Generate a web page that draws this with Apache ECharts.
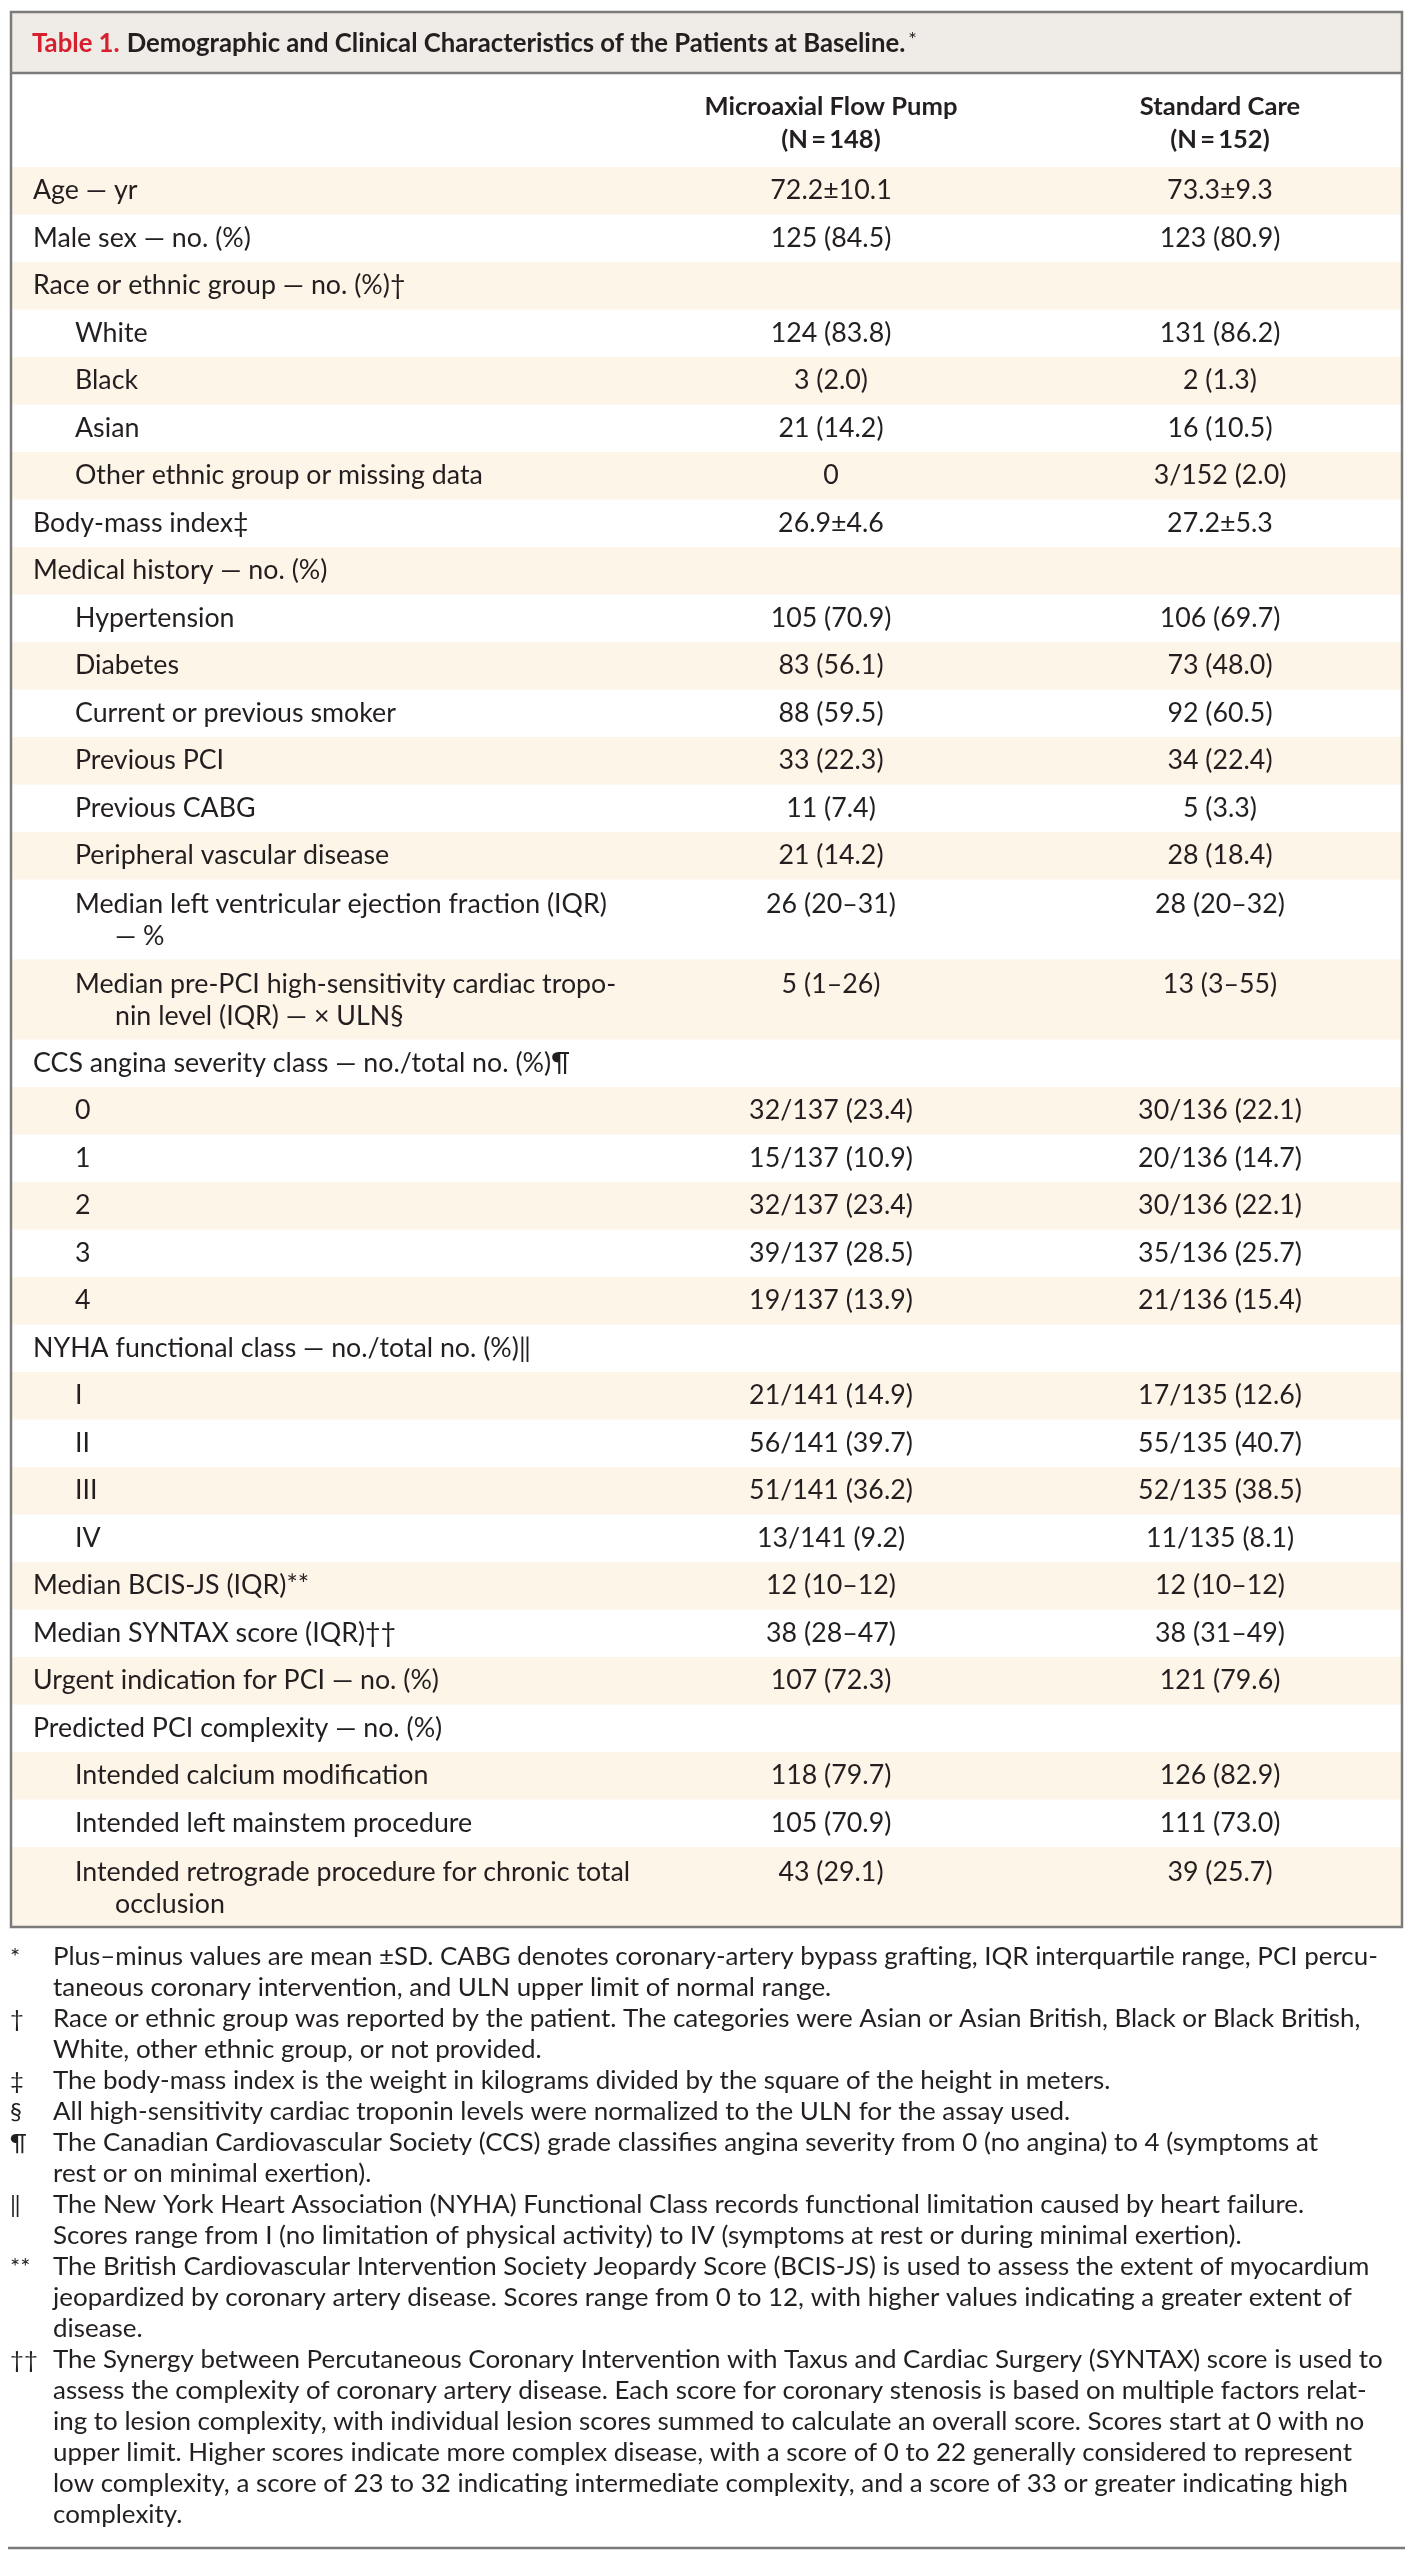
<!DOCTYPE html>
<html>
<head>
<meta charset="utf-8">
<script src="https://cdn.jsdelivr.net/npm/echarts@6/dist/echarts.min.js"></script>
<style>
html,body{margin:0;padding:0;background:#fff;}
#chart{width:1413px;height:2560px;}
</style>
</head>
<body>
<div id="chart"></div>
<script>
// ---------------- DATA ----------------
const titleLead = "Table 1.";
const titleText = "Demographic and Clinical Characteristics of the Patients at Baseline.";
const groupHeaders = [["Microaxial Flow Pump", "(N\u2009=\u2009148)"], ["Standard Care", "(N\u2009=\u2009152)"]];

const rowLabels = [
  ["Age \u2014 yr"],
  ["Male sex \u2014 no. (%)"],
  ["Race or ethnic group \u2014 no. (%)\u2020"],
  ["White"],
  ["Black"],
  ["Asian"],
  ["Other ethnic group or missing data"],
  ["Body-mass index\u2021"],
  ["Medical history \u2014 no. (%)"],
  ["Hypertension"],
  ["Diabetes"],
  ["Current or previous smoker"],
  ["Previous PCI"],
  ["Previous CABG"],
  ["Peripheral vascular disease"],
  ["Median left ventricular ejection fraction (IQR)", "\u2014 %"],
  ["Median pre-PCI high-sensitivity cardiac tropo-", "nin level (IQR) \u2014 \u00d7 ULN\u00a7"],
  ["CCS angina severity class \u2014 no./total no. (%)\u00b6"],
  ["0"], ["1"], ["2"], ["3"], ["4"],
  ["NYHA functional class \u2014 no./total no. (%)\u2016"],
  ["I"], ["II"], ["III"], ["IV"],
  ["Median BCIS-JS (IQR)**"],
  ["Median SYNTAX score (IQR)\u2020\u2020"],
  ["Urgent indication for PCI \u2014 no. (%)"],
  ["Predicted PCI complexity \u2014 no. (%)"],
  ["Intended calcium modification"],
  ["Intended left mainstem procedure"],
  ["Intended retrograde procedure for chronic total", "occlusion"]
];
const rowLevels = [0,0,0,1,1,1,1,0,0,1,1,1,1,1,1,1,1,0,1,1,1,1,1,0,1,1,1,1,0,0,0,0,1,1,1];

const pumpValues = [
  "72.2\u00b110.1","125 (84.5)","","124 (83.8)","3 (2.0)","21 (14.2)","0","26.9\u00b14.6","",
  "105 (70.9)","83 (56.1)","88 (59.5)","33 (22.3)","11 (7.4)","21 (14.2)",
  "26 (20\u201331)","5 (1\u201326)","",
  "32/137 (23.4)","15/137 (10.9)","32/137 (23.4)","39/137 (28.5)","19/137 (13.9)","",
  "21/141 (14.9)","56/141 (39.7)","51/141 (36.2)","13/141 (9.2)",
  "12 (10\u201312)","38 (28\u201347)","107 (72.3)","",
  "118 (79.7)","105 (70.9)","43 (29.1)"
];
const careValues = [
  "73.3\u00b19.3","123 (80.9)","","131 (86.2)","2 (1.3)","16 (10.5)","3/152 (2.0)","27.2\u00b15.3","",
  "106 (69.7)","73 (48.0)","92 (60.5)","34 (22.4)","5 (3.3)","28 (18.4)",
  "28 (20\u201332)","13 (3\u201355)","",
  "30/136 (22.1)","20/136 (14.7)","30/136 (22.1)","35/136 (25.7)","21/136 (15.4)","",
  "17/135 (12.6)","55/135 (40.7)","52/135 (38.5)","11/135 (8.1)",
  "12 (10\u201312)","38 (31\u201349)","121 (79.6)","",
  "126 (82.9)","111 (73.0)","39 (25.7)"
];

const footSymbols = ["*", "\u2020", "\u2021", "\u00a7", "\u00b6", "\u2016", "**", "\u2020\u2020"];
const footLines = [
  ["Plus\u2013minus values are mean \u00b1SD. CABG denotes coronary-artery bypass grafting, IQR interquartile range, PCI percu-",
   "taneous coronary intervention, and ULN upper limit of normal range."],
  ["Race or ethnic group was reported by the patient. The categories were Asian or Asian British, Black or Black British,",
   "White, other ethnic group, or not provided."],
  ["The body-mass index is the weight in kilograms divided by the square of the height in meters."],
  ["All high-sensitivity cardiac troponin levels were normalized to the ULN for the assay used."],
  ["The Canadian Cardiovascular Society (CCS) grade classifies angina severity from 0 (no angina) to 4 (symptoms at",
   "rest or on minimal exertion)."],
  ["The New York Heart Association (NYHA) Functional Class records functional limitation caused by heart failure.",
   "Scores range from I (no limitation of physical activity) to IV (symptoms at rest or during minimal exertion)."],
  ["The British Cardiovascular Intervention Society Jeopardy Score (BCIS-JS) is used to assess the extent of myocardium",
   "jeopardized by coronary artery disease. Scores range from 0 to 12, with higher values indicating a greater extent of",
   "disease."],
  ["The Synergy between Percutaneous Coronary Intervention with Taxus and Cardiac Surgery (SYNTAX) score is used to",
   "assess the complexity of coronary artery disease. Each score for coronary stenosis is based on multiple factors relat-",
   "ing to lesion complexity, with individual lesion scores summed to calculate an overall score. Scores start at 0 with no",
   "upper limit. Higher scores indicate more complex disease, with a score of 0 to 22 generally considered to represent",
   "low complexity, a score of 23 to 32 indicating intermediate complexity, and a score of 33 or greater indicating high",
   "complexity."]
];

// ---------------- LAYOUT ----------------
const FONT = "Lato, 'Noto Sans', sans-serif";
const TXT = "#231f20";
const SHADE = "#fdf5e8";
const BAND = "#efebe6";
const BORDER = "#7b7b7b";
const L = 11, R = 1402, TOP = 12, TITLE_B = 73, HEAD_B = 167;
const ROW_H1 = 47.5, ROW_H2 = 80;
const COL_X = [820, 1209]; // column centres in x-axis units (grid left = L)
const INDENT = [22, 64], HANG = 40;

// fit font sizes to the widths of reference text runs
const mctx = document.createElement('canvas').getContext('2d');
function fitSize(text, weight, target, fallback) {
  mctx.font = weight + ' 100px ' + FONT;
  const w = mctx.measureText(text).width;
  if (!w) return fallback;
  const s = 100 * target / w;
  return Math.round(s * 100) / 100;
}
const BODY_FS = fitSize("Race or ethnic group \u2014 no. (%)", 'normal', 357, 25);
const HEAD_FS = fitSize("Microaxial Flow Pump", 'bold', 253, 25);
const TITLE_FS = fitSize(titleLead + " " + titleText, 'bold', 873, 27);
const FOOT_FS = fitSize(footLines[0][0], 'normal', 1325, 25);

// cumulative row extents (y-axis units = px)
const rowData = [];
let acc = 0;
rowLabels.forEach((lab, i) => {
  const h = lab.length > 1 ? ROW_H2 : ROW_H1;
  rowData.push([i, acc, acc + h]);
  acc += h;
});
const BODY_H = acc;
const TABLE_B = HEAD_B + BODY_H;

function renderRow(params, api) {
  const i = api.value(0);
  const p0 = api.coord([0, api.value(1)]);
  const p1 = api.coord([R - L, api.value(2)]);
  const y0 = p0[1], y1 = p1[1];
  const children = [];
  if (i % 2 === 0) {
    children.push({type: 'rect', shape: {x: p0[0], y: y0, width: p1[0] - p0[0], height: y1 - y0},
      style: {fill: SHADE}, silent: true});
  }
  const lab = rowLabels[i];
  const firstY = lab.length > 1 ? y0 + 25 : (y0 + y1) / 2;
  const lx = api.coord([INDENT[rowLevels[i]], 0])[0];
  lab.forEach((t, k) => {
    children.push({type: 'text', style: {text: t, x: lx + (k > 0 ? HANG : 0), y: firstY + k * 32,
      textAlign: 'left', textVerticalAlign: 'middle', fill: TXT, fontSize: BODY_FS, fontFamily: FONT}});
  });
  [pumpValues[i], careValues[i]].forEach((v, c) => {
    if (!v) return;
    const cx = api.coord([COL_X[c], 0])[0];
    children.push({type: 'text', style: {text: v, x: cx, y: firstY,
      textAlign: 'center', textVerticalAlign: 'middle', fill: TXT, fontSize: BODY_FS, fontFamily: FONT}});
  });
  return {type: 'group', children: children};
}

// graphic elements: title band, header, borders, footnotes
const graphics = [];
graphics.push({type: 'rect', shape: {x: L, y: TOP, width: R - L, height: TITLE_B - TOP}, style: {fill: BAND}, z: 0});
graphics.push({type: 'text', x: 32, y: (TOP + TITLE_B) / 2 + 1, style: {
  text: '{r|' + titleLead + '}{b|' + titleText + '}{s|*}',
  textVerticalAlign: 'middle',
  rich: {
    r: {fill: '#d7202e', fontSize: TITLE_FS, fontWeight: 'bold', fontFamily: FONT, padding: [0, 7, 0, 0]},
    b: {fill: TXT, fontSize: TITLE_FS, fontWeight: 'bold', fontFamily: FONT},
    s: {fill: TXT, fontSize: 20, fontFamily: FONT, verticalAlign: 'top', padding: [0, 0, 8, 3]}
  }}, z: 5});
groupHeaders.forEach((h, c) => {
  graphics.push({type: 'text', x: L + COL_X[c], y: 123, style: {
    text: h.join('\n'), textAlign: 'center', textVerticalAlign: 'middle', lineHeight: 33,
    fill: TXT, fontSize: HEAD_FS, fontWeight: 'bold', fontFamily: FONT}, z: 5});
});
graphics.push({type: 'line', shape: {x1: L, y1: TITLE_B, x2: R, y2: TITLE_B}, style: {stroke: BORDER, lineWidth: 2.5}, z: 10});
graphics.push({type: 'rect', shape: {x: L, y: TOP, width: R - L, height: TABLE_B - TOP},
  style: {fill: 'none', stroke: BORDER, lineWidth: 2.5}, z: 10});

let lineIdx = 0;
const FOOT_Y0 = TABLE_B + 30, FOOT_DY = 31;
footLines.forEach((lines, n) => {
  graphics.push({type: 'text', x: 10, y: FOOT_Y0 + lineIdx * FOOT_DY, style: {
    text: footSymbols[n], textVerticalAlign: 'middle', fill: TXT, fontSize: FOOT_FS - 2, fontFamily: FONT}, z: 5});
  lines.forEach(t => {
    graphics.push({type: 'text', x: 53, y: FOOT_Y0 + lineIdx * FOOT_DY, style: {
      text: t, textVerticalAlign: 'middle', fill: TXT, fontSize: FOOT_FS, fontFamily: FONT}, z: 5});
    lineIdx++;
  });
});
graphics.push({type: 'line', shape: {x1: 8, y1: 2548, x2: 1405, y2: 2548}, style: {stroke: BORDER, lineWidth: 2.5}, z: 5});

const chart = echarts.init(document.getElementById('chart'), null, {renderer: 'canvas'});
chart.setOption({
  backgroundColor: '#ffffff',
  animation: false,
  grid: {left: L, top: HEAD_B, width: R - L, height: BODY_H, containLabel: false},
  xAxis: {type: 'value', min: 0, max: R - L, show: false},
  yAxis: {type: 'value', min: 0, max: BODY_H, inverse: true, show: false},
  graphic: {elements: graphics},
  series: [{
    type: 'custom',
    renderItem: renderRow,
    encode: {x: -1, y: [1, 2]},
    data: rowData,
    z: 1,
    silent: true
  }]
});
</script>
</body>
</html>
